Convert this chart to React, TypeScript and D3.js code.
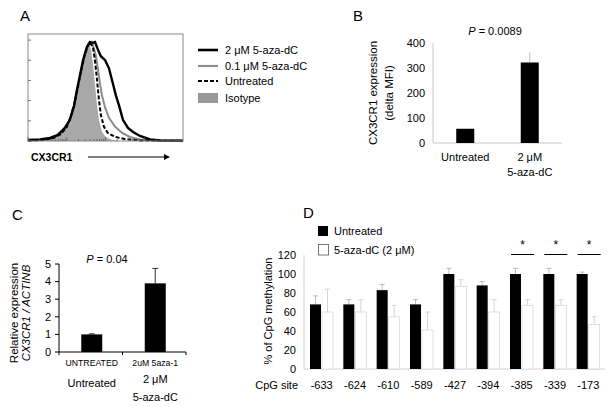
import React from "react";
import * as d3 from "d3";

// ---------- Panel A: flow histogram (log10 fluorescence, % of max) ----------
const histBlack: [number, number][] = [[0,1],[0.31,1.5],[0.57,3],[0.77,6],[0.95,13],[1.08,21],[1.19,35],[1.26,50],[1.34,65],[1.42,80],[1.52,93],[1.6,98],[1.66,97],[1.73,98],[1.81,90],[1.88,84],[1.99,80],[2.09,72],[2.19,57],[2.27,45],[2.35,35],[2.45,21],[2.58,13],[2.71,9],[2.89,5],[3.15,1.5],[3.41,0.5],[4,0.3]];
const histGray: [number, number][] = [[0,0.5],[0.4,1],[0.65,3],[0.85,7],[1.0,14],[1.12,25],[1.22,40],[1.3,55],[1.38,70],[1.46,84],[1.55,95],[1.65,98],[1.75,85],[1.81,70],[1.86,56],[1.91,45],[1.99,33],[2.09,23],[2.25,14],[2.43,8],[2.63,4],[2.89,1.5],[3.28,0.5],[4,0.2]];
const histUntreated: [number, number][] = [[0,0.5],[0.4,1],[0.65,3],[0.85,7],[1.0,14],[1.12,26],[1.22,41],[1.3,56],[1.38,71],[1.46,85],[1.55,95],[1.6,98],[1.68,92],[1.73,79],[1.78,61],[1.83,41],[1.88,26],[1.96,14],[2.06,8],[2.25,4],[2.5,2],[2.89,0.5],[4,0.2]];
const histIsotype: [number, number][] = [[0.3,0],[0.5,1],[0.7,4],[0.88,10],[1.03,19],[1.16,33],[1.26,48],[1.37,65],[1.45,82],[1.52,95],[1.57,98],[1.63,90],[1.68,75],[1.73,55],[1.78,36],[1.83,21],[1.91,9],[2.01,4],[2.17,1],[2.37,0]];
const legendA = ["2 μM  5-aza-dC", "0.1 μM 5-aza-dC", "Untreated", "Isotype"];
const countTicks = [0, 20, 40, 60, 80, 100];

// ---------- Panel B ----------
const catsB = ["Untreated", "2  μM"];
const valsB = [57, 322];
const errB = [0, 40];
const ticksB = [0, 100, 200, 300, 400];

// ---------- Panel C ----------
const catsC = ["UNTREATED", "2uM 5aza-1"];
const groupC = ["Untreated", "2  μM"];
const valsC = [1.0, 3.9];
const errC = [0.03, 0.85];
const ticksC = [0, 1, 2, 3, 4, 5];

// ---------- Panel D ----------
const sites = ["-633", "-624", "-610", "-589", "-427", "-394", "-385", "-339", "-173"];
const untreatedD = [68, 68, 83, 68, 100, 88, 100, 100, 100];
const untreatedErr = [9, 5, 6, 5, 6, 4, 6, 6, 2];
const azaD = [60, 60, 55, 41, 87, 60, 67, 67, 47];
const azaErr = [24, 13, 12, 19, 7, 13, 6, 6, 8];
const sigSites = ["-385", "-339", "-173"];
const ticksD = [0, 20, 40, 60, 80, 100, 120];

const FONT = "'Liberation Sans', Arial, sans-serif";

function PanelA() {
  const x = d3.scaleLinear().domain([0, 4]).range([28, 183]);
  const y = d3.scaleLinear().domain([0, 105]).range([141, 35]);
  const line = d3.line<[number, number]>().x(d => x(d[0])).y(d => y(d[1]));
  const area = d3.area<[number, number]>().x(d => x(d[0])).y0(y(0)).y1(d => y(d[1]));
  const minor: number[] = [];
  for (let dd = 0; dd < 4; dd++) for (let k = 1; k <= 9; k++) minor.push(dd + Math.log10(k));
  const ly = [50, 66, 81, 98];
  return (
    <g fontFamily={FONT}>
      <text x={20} y={21} fontSize={15}>A</text>
      <path d={area(histIsotype) || ""} fill="#a8a8a8" />
      <path d={line(histGray) || ""} fill="none" stroke="#8c8c8c" strokeWidth={2} />
      <path d={line(histBlack) || ""} fill="none" stroke="#000" strokeWidth={2.4} />
      <path d={line(histUntreated) || ""} fill="none" stroke="#000" strokeWidth={2} strokeDasharray="4,2" />
      <rect x={28} y={34} width={155} height={107} fill="none" stroke="#8a8a8a" strokeWidth={1} />
      {countTicks.map(t => (
        <line key={t} x1={28} x2={31} y1={y(t)} y2={y(t)} stroke="#555" strokeWidth={0.8} />
      ))}
      {minor.map((m, i) => (
        <line key={i} x1={x(m)} x2={x(m)} y1={141} y2={Math.abs(m - Math.round(m)) < 1e-6 ? 137 : 139} stroke="#555" strokeWidth={0.7} />
      ))}
      <line x1={198} x2={218} y1={ly[0]} y2={ly[0]} stroke="#000" strokeWidth={2.6} />
      <line x1={198} x2={218} y1={ly[1]} y2={ly[1]} stroke="#8c8c8c" strokeWidth={2.2} />
      <line x1={198} x2={218} y1={ly[2]} y2={ly[2]} stroke="#000" strokeWidth={2.2} strokeDasharray="4,2" />
      <rect x={198} y={93} width={20} height={10} fill="#999" />
      {legendA.map((t, i) => (
        <text key={t} x={225} y={ly[i]} dy="0.35em" fontSize={11}>{t}</text>
      ))}
      <text x={31} y={157} dy="0.35em" fontSize={10.5} fontWeight="bold">CX3CR1</text>
      <line x1={88} x2={164} y1={157} y2={157} stroke="#000" strokeWidth={1.2} />
      <path d="M164,154 L170,157 L164,160 Z" fill="#000" />
    </g>
  );
}

function PanelB() {
  const y = d3.scaleLinear().domain([0, 400]).range([143, 43]);
  const x = d3.scaleBand<string>().domain(catsB).range([433, 562]).padding(0);
  const bw = 18;
  return (
    <g fontFamily={FONT}>
      <text x={353} y={21} fontSize={15}>B</text>
      <text x={495} y={31} dy="0.35em" fontSize={11} textAnchor="middle">
        <tspan fontStyle="italic">P</tspan> = 0.0089
      </text>
      <line x1={433} x2={433} y1={43} y2={143} stroke="#c8c8c8" />
      <line x1={433} x2={562} y1={143} y2={143} stroke="#c8c8c8" />
      {ticksB.map(t => (
        <text key={t} x={425} y={y(t)} dy="0.35em" fontSize={11} textAnchor="end">{t}</text>
      ))}
      {catsB.map((c, i) => {
        const cx = (x(c) as number) + x.bandwidth() / 2;
        return (
          <g key={c}>
            {errB[i] > 0 && (
              <line x1={cx} x2={cx} y1={y(valsB[i])} y2={y(valsB[i] + errB[i])} stroke="#aaa" strokeWidth={0.8} />
            )}
            <rect x={cx - bw / 2} y={y(valsB[i])} width={bw} height={143 - y(valsB[i])} fill="#000" />
            <text x={cx} y={157} dy="0.35em" fontSize={11} textAnchor="middle">{c}</text>
            {i === 1 && <text x={cx} y={172} dy="0.35em" fontSize={11} textAnchor="middle">5-aza-dC</text>}
          </g>
        );
      })}
      <g transform="translate(373,93) rotate(-90)">
        <text x={0} y={0} dy="0.35em" fontSize={11.5} textAnchor="middle">CX3CR1 expression</text>
        <text x={0} y={16} dy="0.35em" fontSize={11.5} textAnchor="middle">(delta MFI)</text>
      </g>
    </g>
  );
}

function PanelC() {
  const y = d3.scaleLinear().domain([0, 5]).range([352, 264]);
  const x = d3.scaleBand<string>().domain(catsC).range([59, 186]).padding(0);
  const bw = 21;
  return (
    <g fontFamily={FONT}>
      <text x={12} y={220} fontSize={15}>C</text>
      <text x={107} y={259} dy="0.35em" fontSize={11} textAnchor="middle">
        <tspan fontStyle="italic">P</tspan> = 0.04
      </text>
      <line x1={59} x2={59} y1={264} y2={352} stroke="#000" strokeWidth={1} />
      <line x1={59} x2={186} y1={352} y2={352} stroke="#000" strokeWidth={1} />
      {ticksC.map(t => (
        <g key={t}>
          <line x1={55} x2={59} y1={y(t)} y2={y(t)} stroke="#000" />
          <text x={51} y={y(t)} dy="0.35em" fontSize={11} textAnchor="end">{t}</text>
        </g>
      ))}
      {[59, 122.5, 186].map(t => (
        <line key={t} x1={t} x2={t} y1={352} y2={355} stroke="#000" />
      ))}
      {catsC.map((c, i) => {
        const cx = (x(c) as number) + x.bandwidth() / 2 + 1;
        const top = y(valsC[i] + errC[i]);
        return (
          <g key={c}>
            <line x1={cx} x2={cx} y1={y(valsC[i])} y2={top} stroke="#333" strokeWidth={1} />
            <line x1={cx - 3} x2={cx + 3} y1={top} y2={top} stroke="#333" strokeWidth={1} />
            <rect x={cx - bw / 2} y={y(valsC[i])} width={bw} height={352 - y(valsC[i])} fill="#000" />
            <text x={cx} y={363} dy="0.35em" fontSize={8.7} textAnchor="middle">{c}</text>
            <text x={cx} y={i === 0 ? 383 : 379} dy="0.35em" fontSize={11} textAnchor="middle">{groupC[i]}</text>
            {i === 1 && <text x={cx} y={397} dy="0.35em" fontSize={11} textAnchor="middle">5-aza-dC</text>}
          </g>
        );
      })}
      <g transform="translate(14,313) rotate(-90)">
        <text x={0} y={0} dy="0.35em" fontSize={11.5} textAnchor="middle">Relative expression</text>
        <text x={0} y={12} dy="0.35em" fontSize={11.5} textAnchor="middle" fontStyle="italic">CX3CR1 / ACTINB</text>
      </g>
    </g>
  );
}

function PanelD() {
  const y = d3.scaleLinear().domain([0, 120]).range([369, 255]);
  const x = d3.scaleBand<string>().domain(sites).range([305, 605]).padding(0);
  const bw = 11;
  return (
    <g fontFamily={FONT}>
      <text x={303} y={218} fontSize={15}>D</text>
      <rect x={318} y={226} width={10} height={10} fill="#000" />
      <text x={334} y={231.5} dy="0.35em" fontSize={11}>Untreated</text>
      <rect x={318.5} y={244.5} width={10} height={10.5} fill="#fff" stroke="#555" strokeWidth={0.8} />
      <text x={334} y={250} dy="0.35em" fontSize={11}>5-aza-dC (2 μM)</text>
      <line x1={304} x2={304} y1={255} y2={369} stroke="#d0d0d0" />
      <line x1={304} x2={605} y1={369} y2={369} stroke="#d0d0d0" />
      {ticksD.map(t => (
        <text key={t} x={296} y={y(t)} dy="0.35em" fontSize={11} textAnchor="end">{t}</text>
      ))}
      {sites.map((s, i) => {
        const x0 = x(s) as number;
        const bx = x0 + 5;
        const wx = x0 + 17;
        const bTop = y(untreatedD[i] + untreatedErr[i]);
        const wTop = y(azaD[i] + azaErr[i]);
        return (
          <g key={s}>
            <line x1={bx + bw / 2} x2={bx + bw / 2} y1={y(untreatedD[i])} y2={bTop} stroke="#aaa" strokeWidth={0.8} />
            <line x1={bx + bw / 2 - 2.5} x2={bx + bw / 2 + 2.5} y1={bTop} y2={bTop} stroke="#aaa" strokeWidth={0.8} />
            <rect x={bx} y={y(untreatedD[i])} width={bw} height={369 - y(untreatedD[i])} fill="#000" />
            <line x1={wx + bw / 2} x2={wx + bw / 2} y1={y(azaD[i])} y2={wTop} stroke="#ccc" strokeWidth={0.8} />
            <line x1={wx + bw / 2 - 2.5} x2={wx + bw / 2 + 2.5} y1={wTop} y2={wTop} stroke="#ccc" strokeWidth={0.8} />
            <rect x={wx} y={y(azaD[i])} width={bw} height={369 - y(azaD[i])} fill="#fff" stroke="#d8d8d8" strokeWidth={0.8} />
            <text x={x0 + x.bandwidth() / 2} y={385} dy="0.35em" fontSize={11} textAnchor="middle">{s}</text>
            {sigSites.includes(s) && (
              <g>
                <line x1={x0 + 6} x2={x0 + 29} y1={254.5} y2={254.5} stroke="#000" strokeWidth={1} />
                <text x={x0 + 17.5} y={249} fontSize={12} textAnchor="middle">*</text>
              </g>
            )}
          </g>
        );
      })}
      <text x={298} y={385} dy="0.35em" fontSize={11} textAnchor="end">CpG site</text>
      <g transform="translate(268,311) rotate(-90)">
        <text x={0} y={0} dy="0.35em" fontSize={11} textAnchor="middle">% of CpG methylation</text>
      </g>
    </g>
  );
}

export default function App() {
  return (
    <div style={{ position: "absolute", left: 0, top: 0 }}>
      <svg width={612} height={407} style={{ display: "block", background: "#fff" }}>
        <rect width={612} height={407} fill="#fff" />
        <PanelA />
        <PanelB />
        <PanelC />
        <PanelD />
      </svg>
    </div>
  );
}
